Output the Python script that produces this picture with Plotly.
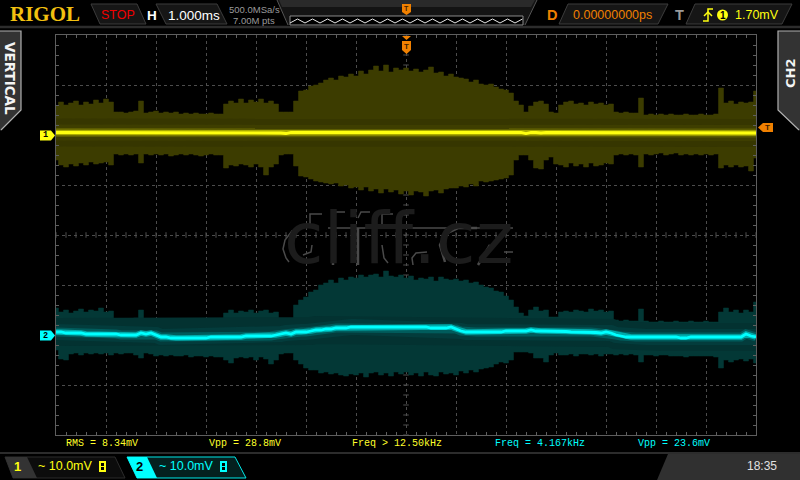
import numpy as np
import plotly.graph_objects as go

# Screen samples every 0.1 ms, from -7 ms to +7 ms. Values in mV relative to each channel's offset.
ch1_upper = [5.4,6.2,5.6,6.0,6.4,5.6,6.2,5.8,6.6,6.0,
 6.8,6.2,4.2,4.2,4.0,4.2,4.4,6.4,4.0,4.2,
 4.4,4.0,4.2,4.0,4.2,3.8,4.0,3.8,4.0,3.8,
 3.8,4.0,3.8,3.8,5.8,6.4,6.0,6.8,6.0,6.6,
 6.2,6.8,6.0,6.4,5.8,4.2,4.2,4.2,6.4,8.4,
 8.6,9.4,9.6,10.0,10.6,11.0,10.6,11.4,11.2,11.8,
 11.4,12.4,11.8,12.6,13.4,12.4,13.6,12.2,13.0,12.6,
 13.0,12.4,12.8,12.2,12.6,13.2,12.0,12.2,11.4,11.8,
 11.2,11.0,10.8,10.2,10.6,9.8,9.6,9.8,9.2,8.8,
 8.6,8.0,6.4,5.6,4.2,5.4,6.2,6.4,5.8,4.2,
 4.0,5.6,6.2,6.4,5.8,6.0,5.6,6.2,5.8,6.0,
 5.6,5.8,4.2,4.0,4.2,4.0,4.0,7.0,3.6,3.8,
 3.6,3.8,3.6,3.8,3.6,3.6,3.8,3.6,3.6,3.8,
 3.6,3.6,3.8,9.0,6.0,6.4,5.8,6.2,6.0,6.2,
 8.4]
ch1_lower = [-5.4,-6.4,-6.8,-6.2,-6.6,-6.0,-6.4,-5.8,-6.2,-6.0,
 -5.8,-6.4,-4.2,-4.4,-4.2,-4.4,-4.2,-6.0,-4.2,-4.4,
 -4.2,-4.4,-4.2,-4.6,-4.4,-4.2,-4.4,-4.2,-4.4,-4.6,
 -4.4,-4.2,-4.4,-4.4,-7.0,-6.4,-6.6,-6.2,-6.4,-6.8,
 -6.2,-6.8,-8.4,-6.8,-6.2,-4.4,-4.2,-4.2,-6.6,-8.6,
 -8.8,-9.2,-9.6,-9.8,-10.0,-10.2,-10.0,-10.6,-10.4,-11.0,
 -10.8,-11.4,-10.8,-11.6,-11.2,-12.0,-11.2,-11.8,-11.4,-12.2,
 -11.6,-12.4,-11.6,-11.8,-12.6,-11.6,-11.4,-12.0,-11.2,-11.0,
 -11.0,-10.6,-10.8,-10.2,-10.6,-9.6,-9.8,-9.6,-9.4,-9.2,
 -9.0,-8.4,-5.4,-4.4,-4.4,-5.4,-7.0,-7.2,-5.4,-4.8,
 -6.2,-6.4,-6.8,-6.0,-6.6,-6.2,-6.8,-6.0,-6.6,-6.4,
 -6.0,-6.2,-4.4,-4.2,-4.4,-4.2,-4.4,-6.8,-4.2,-4.4,
 -4.2,-4.0,-4.4,-4.2,-4.0,-4.4,-4.2,-4.4,-4.2,-4.4,
 -4.2,-4.4,-4.2,-7.0,-6.4,-6.8,-6.4,-6.8,-6.6,-7.6,
 -5.0]
ch1_trace = [0.1,0.1,0.0,0.1,0.0,0.0,0.1,0.0,0.0,0.1,
 0.1,0.0,0.1,0.1,0.0,0.0,0.1,0.1,0.1,0.0,
 0.0,0.1,0.0,0.1,0.0,0.0,0.1,0.0,0.1,0.0,
 0.1,0.0,0.0,0.1,0.0,0.1,0.0,0.0,0.1,0.0,
 0.0,0.1,0.0,0.0,0.1,0.0,-0.1,0.1,0.1,0.1,
 0.1,0.0,0.1,0.0,0.0,0.1,0.0,0.0,0.1,0.1,
 0.0,0.1,0.0,0.0,0.1,0.0,0.1,0.0,0.1,0.0,
 0.0,0.1,0.0,0.1,0.0,0.1,0.0,0.0,0.1,0.0,
 0.0,0.1,0.0,0.0,0.1,0.0,0.0,0.1,0.0,0.1,
 0.0,0.1,0.0,0.1,-0.1,0.1,0.1,0.0,0.1,0.1,
 0.0,0.1,0.1,0.0,0.1,0.1,0.0,0.1,0.0,0.0,
 0.1,0.0,0.0,0.1,0.0,0.0,0.1,0.0,0.0,0.1,
 0.0,0.0,0.1,0.0,0.0,0.1,0.0,0.0,0.1,0.0,
 0.0,0.1,0.0,0.0,0.1,0.0,0.0,0.1,0.0,0.1,
 0.0]
ch2_upper = [5.4,4.6,5.0,4.4,4.8,5.2,4.6,5.0,4.8,5.4,
 4.6,4.8,3.2,3.0,3.2,3.0,3.4,5.0,3.2,3.0,
 2.8,2.6,2.6,2.8,2.6,2.6,2.8,2.6,2.6,2.8,
 2.6,2.6,2.8,2.6,4.4,5.0,4.4,4.8,4.6,5.0,
 4.4,4.8,5.0,4.4,4.6,3.0,3.0,3.0,6.0,7.0,
 7.6,8.6,9.0,10.0,10.4,11.0,10.4,11.4,11.0,11.6,
 11.4,12.0,11.6,12.0,12.2,11.6,12.8,11.8,11.6,12.0,
 11.4,11.8,11.0,11.4,11.2,11.6,10.8,11.6,11.2,11.0,
 11.2,10.8,11.0,10.4,10.6,10.0,9.6,9.4,8.8,8.6,
 7.8,7.0,5.6,4.4,3.8,5.0,5.6,4.8,5.0,3.6,
 3.6,4.6,4.8,4.6,5.0,4.8,4.6,5.2,4.8,5.0,
 4.6,4.8,3.0,2.8,3.0,2.8,2.8,5.2,2.8,2.6,
 2.6,2.8,2.6,2.6,2.8,2.6,2.6,2.8,2.6,2.6,
 2.8,2.6,2.6,4.6,5.4,4.6,5.0,4.4,5.0,4.6,
 6.6]
ch2_lower = [-3.0,-4.8,-5.0,-3.8,-3.6,-4.0,-3.6,-3.8,-3.6,-3.8,
 -3.6,-4.0,-3.6,-3.8,-3.6,-3.6,-4.0,-4.6,-3.6,-3.8,
 -4.2,-4.0,-4.2,-4.0,-4.2,-4.2,-4.0,-4.4,-4.2,-4.2,
 -4.4,-4.2,-4.4,-4.4,-5.0,-5.6,-4.6,-4.4,-4.6,-4.4,
 -5.0,-4.4,-4.8,-5.8,-5.0,-3.8,-3.6,-3.6,-5.0,-5.8,
 -6.6,-7.0,-7.0,-7.6,-7.4,-7.8,-7.6,-8.0,-8.2,-7.8,
 -8.0,-7.6,-8.4,-7.6,-7.4,-8.0,-7.6,-8.2,-7.4,-7.8,
 -7.4,-8.0,-7.6,-8.2,-7.4,-8.0,-8.2,-7.4,-7.8,-7.6,
 -8.0,-7.2,-7.6,-7.0,-7.4,-6.8,-6.6,-6.4,-5.8,-5.4,
 -5.6,-5.0,-3.4,-3.4,-3.4,-3.6,-4.6,-4.6,-5.4,-4.0,
 -3.6,-4.0,-4.0,-3.8,-4.2,-3.8,-3.8,-4.0,-3.8,-4.2,
 -3.8,-3.8,-4.0,-3.8,-4.0,-3.8,-4.0,-5.4,-4.0,-4.0,
 -4.2,-4.0,-4.0,-4.2,-4.2,-4.2,-4.4,-4.2,-4.2,-4.2,
 -4.2,-4.2,-4.4,-6.6,-5.0,-5.4,-5.0,-4.8,-5.2,-4.8,
 -5.6]
ch2_trace = [0.6,0.6,0.4,0.4,0.4,0.4,0.2,0.2,0.2,0.2,
 0.2,0.2,0.2,0.0,0.0,0.0,0.0,0.4,0.2,0.4,
 0.0,-0.4,-0.4,-0.6,-0.6,-0.6,-0.6,-0.6,-0.6,-0.6,
 -0.6,-0.4,-0.4,-0.4,-0.4,-0.4,-0.4,-0.4,-0.2,-0.2,
 -0.2,-0.2,-0.2,-0.2,0.0,0.2,0.4,0.2,0.6,0.6,
 0.6,0.8,1.0,1.0,1.2,1.2,1.4,1.4,1.4,1.6,
 1.6,1.6,1.6,1.6,1.6,1.6,1.6,1.6,1.6,1.6,
 1.6,1.6,1.6,1.6,1.6,1.4,1.4,1.4,1.4,1.6,
 1.2,0.8,0.6,0.6,0.6,0.6,0.6,0.6,0.6,0.6,
 0.8,0.8,0.8,0.8,0.8,1.0,0.8,0.8,0.8,0.8,
 0.8,0.7,0.7,0.6,0.6,0.6,0.6,0.6,0.5,0.4,
 0.6,0.4,0.0,-0.2,-0.4,-0.4,-0.4,-0.4,-0.4,-0.4,
 -0.4,-0.4,-0.4,-0.4,-0.4,-0.6,-0.6,-0.4,-0.4,-0.4,
 -0.4,-0.4,-0.4,-0.4,-0.4,-0.4,-0.4,-0.4,0.2,-0.2,
 -0.4]
ch1_offset_mv = 20.4
ch2_offset_mv = -20.0

measure_labels = ["RMS = 8.34mV", "Vpp = 28.8mV", "Freq > 12.50kHz", "Freq = 4.167kHz", "Vpp = 23.6mV"]
measure_x_px = [66, 209, 352, 495, 638]
measure_colors = ["#ffff2a", "#ffff2a", "#ffff2a", "#00ffff", "#00ffff"]

W, H = 800, 480
time_ms = np.linspace(-7, 7, len(ch1_upper))


def px(x):
    return x / W


def py(y):
    return 1 - y / H


fig = go.Figure()

# ticks along the centre cross
minor_x = np.arange(-7, 7.01, 0.2)
minor_y = np.arange(-40, 40.01, 2)
fig.add_trace(go.Scatter(x=minor_x, y=np.zeros_like(minor_x), mode="markers",
                         marker=dict(symbol="line-ns", size=4, line=dict(color="#4e4e4e", width=1)), hoverinfo="skip"))
fig.add_trace(go.Scatter(x=np.zeros_like(minor_y), y=minor_y, mode="markers",
                         marker=dict(symbol="line-ew", size=4, line=dict(color="#4e4e4e", width=1)), hoverinfo="skip"))


def channel(upper, lower, trace, offset, fill, band, glow3, glow2, glow1, core):
    up = np.array(upper) + offset
    lo = np.array(lower) + offset
    tr = np.array(trace) + offset
    fig.add_trace(go.Scatter(x=np.concatenate([time_ms, time_ms[::-1]]),
                             y=np.concatenate([up, lo[::-1]]),
                             mode="lines", fill="toself", fillcolor=fill, line_shape="hvh",
                             line=dict(color=fill, width=0.5), hoverinfo="skip"))
    for color, width in ((band, 28), (glow3, 16), (glow2, 9), (glow1, 5.5), (core, 2.8)):
        fig.add_trace(go.Scatter(x=time_ms, y=tr, mode="lines",
                                 line=dict(color=color, width=width), hoverinfo="skip"))


channel(ch1_upper, ch1_lower, ch1_trace, ch1_offset_mv,
        "rgb(60,60,0)", "rgb(54,54,0)", "rgb(62,62,0)", "rgb(92,92,0)", "rgb(170,170,0)", "#ffff10")
channel(ch2_upper, ch2_lower, ch2_trace, ch2_offset_mv,
        "rgb(3,56,54)", "rgb(3,50,49)", "rgb(3,60,60)", "rgb(0,92,92)", "rgb(0,170,170)", "#00ffff")

shapes = []
annos = []


def poly(points, fill="rgba(0,0,0,0)", line="rgba(0,0,0,0)", width=1, close=True):
    d = "M" + " L".join(f"{px(x):.5f},{py(y):.5f}" for x, y in points) + (" Z" if close else "")
    shapes.append(dict(type="path", path=d, xref="paper", yref="paper",
                       fillcolor=fill, line=dict(color=line, width=width), layer="above"))


def text(x, y, s, color, size, family="Liberation Sans", bold=False, anchor="center", angle=0):
    annos.append(dict(x=px(x), y=py(y), xref="paper", yref="paper", text=f"<b>{s}</b>" if bold else s,
                      showarrow=False, xanchor=anchor, yanchor="middle", textangle=angle,
                      font=dict(color=color, size=size, family=family), borderpad=0, borderwidth=0))


# top bar
poly([(0, 27), (800, 27)], line="#2c2c2c", width=2.5, close=False)
poly([(277, 0), (537, 0), (525, 25), (288, 25)], fill="#141414")
poly([(279, 0), (535, 0), (531, 7), (282, 7)], fill="#2a2a2a")
poly([(277, 0), (288, 25)], line="#555555", width=1, close=False)
poly([(537, 0), (525, 25)], line="#555555", width=1, close=False)
poly([(290, 16), (523, 16), (523, 25), (290, 25)], fill="#000000", line="#8a8a8a", width=1)
wave = [(290 + i * 7.5, 19 if i % 2 else 23) for i in range(32)]
poly(wave, line="#e8e8e8", width=1, close=False)
poly([(402, 4), (411, 4), (411, 12), (406.5, 15), (402, 12)], fill="#f08000")
text(406.5, 8.5, "T", "#402000", 7, bold=True)

text(45, 14, "RIGOL", "#f2c010", 21, family="Liberation Serif", bold=True)
poly([(91, 4), (137, 4), (146, 24), (100, 24)], fill="#161616", line="#3c3c3c")
text(118, 15, "STOP", "#f00000", 12.5)
text(151.5, 15, "H", "#ffffff", 13.5, bold=True)
poly([(156, 4), (217, 4), (227, 24), (166, 24)], fill="#161616", line="#3c3c3c")
text(194, 15, "1.000ms", "#ffffff", 13.5)
text(254, 9.5, "500.0MSa/s", "#9a9a9a", 9.5)
text(254, 21, "7.00M pts", "#9a9a9a", 9.5)

text(552, 15, "D", "#f08000", 14.5, bold=True)
poly([(568, 4), (668, 4), (658, 24), (559, 24)], fill="#161616", line="#3c3c3c")
text(612, 15, "0.00000000ps", "#f08000", 12.5)
text(679, 15, "T", "#9a9a9a", 14.5, bold=True)
poly([(695, 4), (792, 4), (782, 24), (686, 24)], fill="#161616", line="#3c3c3c")
poly([(703, 21), (708, 21), (708, 9), (713, 9)], line="#ffff10", width=1.5, close=False)
poly([(704, 16), (708, 12), (712, 16)], line="#ffff10", width=1.5, close=False)
shapes.append(dict(type="circle", xref="paper", yref="paper", x0=px(717), x1=px(728), y0=py(20.5), y1=py(9.5),
                   fillcolor="#ffff10", line=dict(width=0), layer="above"))
text(722.5, 15, "1", "#000000", 10, bold=True)
text(757, 15, "1.70mV", "#ffff10", 12.5)

# side tabs
poly([(0, 31), (21, 31), (21, 110), (0, 131)], fill="#333333")
poly([(0, 31), (21, 31), (21, 110), (1, 130)], line="#b0b0b0", width=1.2, close=False)
text(10.5, 78.5, "VERTICAL", "#f4f4f4", 13.5, family="DejaVu Sans", bold=True, angle=90)
poly([(800, 31), (778, 31), (778, 110), (800, 131)], fill="#333333")
poly([(800, 31), (778, 31), (778, 110), (799, 130)], line="#b0b0b0", width=1.2, close=False)
text(790, 74, "CH2", "#f4f4f4", 13, family="DejaVu Sans", bold=True, angle=-90)

# channel and trigger markers
poly([(40, 130.5), (51, 130.5), (55, 135.5), (51, 140.5), (40, 140.5)], fill="#ffff10")
text(45.5, 135.5, "1", "#000000", 8.5, family="Liberation Mono", bold=True)
poly([(40, 330.5), (51, 330.5), (55, 335.5), (51, 340.5), (40, 340.5)], fill="#00ffff")
text(45.5, 335.5, "2", "#000000", 8.5, family="Liberation Mono", bold=True)
poly([(758, 127.5), (763, 123), (773, 123), (773, 132), (763, 132)], fill="#f08000")
text(767.5, 127.5, "T", "#402000", 8, bold=True)
poly([(402, 36), (411, 36), (406.5, 40)], fill="#f08000")
poly([(402, 41), (411, 41), (411, 50), (406.5, 54), (402, 50)], fill="#f08000")
text(406.5, 46, "T", "#402000", 8, bold=True)

# watermark: faint real text, plus the broken strokes that stand out in the photo
text(398, 238, "cliff.cz", "#1c1c1c", 72, family="DejaVu Sans")
wm = "#4a4a4a"
for stroke, w in (
    ([(328, 228), (387, 228)], 1.5), ([(398, 228), (513, 228)], 1.5),
    ([(310, 228), (310, 214), (322, 214)], 1.5), ([(382, 228), (382, 214), (393, 214)], 1.5),
    ([(333, 228), (333, 265)], 2.5), ([(358, 228), (358, 265)], 2.5),
    ([(303, 228), (292, 231), (285, 240), (283, 249), (286, 258), (289, 262)], 1.5),
    ([(477, 228), (458, 228), (445, 234), (440, 245), (445, 262)], 2.5),
    ([(427, 252), (416, 253), (412, 258), (413, 265)], 1.5),
    ([(345, 212), (336, 212), (333, 218)], 1.5), ([(370, 212), (361, 212), (358, 218)], 1.5),
    ([(382, 245), (384, 258), (388, 263)], 1.5),
    ([(303, 255), (311, 252), (312, 245)], 1.5),
    ([(490, 245), (478, 265)], 2.5), ([(504, 252), (513, 252)], 1.5),
):
    poly(stroke, line=wm, width=w, close=False)

# measurements
for s, x, c in zip(measure_labels, measure_x_px, measure_colors):
    text(x, 443, s, c, 10, family="Liberation Mono", anchor="left")

# bottom bar
poly([(0, 453), (800, 453)], line="#2c2c2c", width=2, close=False)
poly([(668, 454), (800, 454), (800, 480), (657, 480)], fill="#303030")
text(762, 466, "18:35", "#e0e0e0", 12)

poly([(5, 457), (115, 457), (125, 478), (13, 478)], fill="#0c0c0c", line="#2c2c2c")
poly([(5, 457), (27, 457), (37, 478), (13, 478)], fill="#333333")
text(17.5, 466, "1", "#ffff10", 13, bold=True)
text(65, 466, "~ 10.0mV", "#ffff10", 12.5)
poly([(127, 457), (235, 457), (246, 478), (137, 478)], fill="#04201f", line="#00e8e8")
poly([(127, 457), (147, 457), (157, 478), (137, 478)], fill="#00ffff")
text(139, 466, "2", "#000000", 13, bold=True)
text(186, 466, "~ 10.0mV", "#00ffff", 12.5)
for x0, col in ((99, "#ffff10"), (220, "#00ffff")):
    poly([(x0, 461), (106 + x0 - 99, 461), (106 + x0 - 99, 472), (x0, 472)], fill=col)
    poly([(x0 + 2, 463), (x0 + 5, 463), (x0 + 5, 470), (x0 + 2, 470)], fill="#000000")
    poly([(x0 + 2, 466.5), (x0 + 5, 466.5)], line=col, width=1, close=False)

grid = "#4c4c4c"
axis_style = dict(showgrid=True, gridcolor=grid, griddash="dot", gridwidth=1, zeroline=False, showticklabels=False,
                  ticks="inside", ticklen=0, showline=True, linecolor="#5e5e5e", linewidth=1,
                  mirror="allticks", fixedrange=True)
fig.update_layout(
    width=W, height=H, paper_bgcolor="#000000", plot_bgcolor="#000000", showlegend=False,
    margin=dict(l=0, r=0, t=0, b=0),
    xaxis=dict(axis_style, range=[-7, 7], dtick=1, tick0=-7, domain=[56 / W, 756 / W],
               minor=dict(dtick=0.2, ticks="inside", ticklen=3, tickcolor="#5e5e5e", showgrid=False)),
    yaxis=dict(axis_style, range=[-40, 40], dtick=10, tick0=-40, domain=[1 - 435 / H, 1 - 35 / H],
               minor=dict(dtick=2, ticks="inside", ticklen=3, tickcolor="#5e5e5e", showgrid=False)),
    shapes=shapes, annotations=annos,
)
fig.write_html("out.html", config=dict(displayModeBar=False),
               post_script="document.body.style.margin='0';document.body.style.background='#000';document.body.style.overflow='hidden';")
